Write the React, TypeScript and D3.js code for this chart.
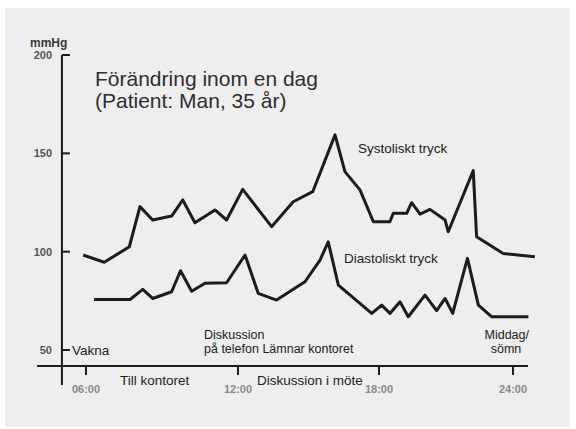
import React from 'react';
import * as d3 from 'd3';

// timmar på dygnet (decimal) och tryck i mmHg
const systHours = [5.89, 6.72, 7.71, 8.13, 8.63, 9.38, 9.82, 10.3, 11.09, 11.55, 12.2, 13.43, 14.35, 15.18, 16.13, 16.55, 17.19, 17.76, 18.49, 18.64, 19.24, 19.46, 19.84, 20.28, 20.96, 21.1, 22.22, 22.37, 23.56, 24.98];
const systValues = [98.3, 94.6, 102.5, 122.9, 116.1, 118.1, 126.3, 114.7, 121.2, 116.1, 131.7, 112.7, 125.4, 130.5, 159.4, 140.7, 131.4, 115.2, 115.2, 119.5, 119.5, 124.9, 119.1, 121.5, 116.1, 110.1, 141.2, 107.6, 99.1, 97.4];

const diaHours = [6.32, 7.74, 8.24, 8.63, 9.38, 9.73, 10.17, 10.7, 11.55, 12.3, 12.86, 13.64, 14.85, 15.49, 15.84, 16.27, 17.69, 18.12, 18.49, 18.94, 19.31, 20.06, 20.58, 20.96, 21.3, 21.96, 22.45, 23.05, 24.69];
const diaValues = [75.7, 75.7, 80.8, 76.2, 79.6, 90.3, 79.9, 83.9, 84.2, 98.3, 78.8, 75.4, 84.7, 95.7, 105.0, 83.0, 68.6, 72.8, 68.6, 74.5, 66.9, 77.9, 70.0, 76.2, 68.6, 96.6, 72.8, 66.9, 66.9];

const xTicks = [6, 12, 18, 24];
const xTickLabels = ['06:00', '12:00', '18:00', '24:00'];
const yTicks = [200, 150, 100, 50];

export default function App() {
  const width = 576;
  const height = 429;

  // handritad tidsaxel, inte helt jämn
  const x = d3.scaleLinear().domain([6, 12, 18, 24]).range([86, 238, 379, 513]);
  const y = d3.scaleLinear().domain([50, 200]).range([350, 55]);

  const line = d3
    .line<[number, number]>()
    .x((d) => x(d[0]))
    .y((d) => y(d[1]));

  const syst = systHours.map((h, i) => [h, systValues[i]] as [number, number]);
  const dia = diaHours.map((h, i) => [h, diaValues[i]] as [number, number]);

  const axisX = x(5.05);
  const axisY = 366;
  const font = '"Liberation Sans", Arial, sans-serif';
  const ink = '#1c1c1c';

  return (
    <svg
      width={width}
      height={height}
      style={{ position: 'absolute', left: 0, top: 0 }}
      fontFamily={font}
    >
      <rect x={0} y={0} width={width} height={height} fill='#ffffff' />
      <rect x={5} y={8} width={565} height={419} fill='#eeeeee' />

      {/* y-axel */}
      <line x1={axisX} x2={axisX} y1={y(200)} y2={385} stroke={ink} strokeWidth={2} />
      {yTicks.map((t) => (
        <g key={t}>
          <line x1={axisX} x2={axisX + 8} y1={y(t)} y2={y(t)} stroke={ink} strokeWidth={2} />
          <text x={52} y={y(t) + 4} textAnchor='end' fontSize={11} fontWeight='bold' fill='#555'>
            {t}
          </text>
        </g>
      ))}
      <text x={30} y={47} fontSize={12} fontWeight='bold' fill='#3a3a3a'>
        mmHg
      </text>

      {/* x-axel */}
      <line x1={x(4.07)} x2={x(24.67)} y1={axisY} y2={axisY} stroke={ink} strokeWidth={2} />
      {xTicks.map((t, i) => (
        <g key={t}>
          <line x1={x(t)} x2={x(t)} y1={axisY} y2={axisY + 9} stroke={ink} strokeWidth={2} />
          <text x={x(t)} y={393} textAnchor='middle' fontSize={11} fontWeight='bold' fill='#888'>
            {xTickLabels[i]}
          </text>
        </g>
      ))}

      {/* kurvor */}
      <path d={line(syst) || ''} fill='none' stroke={ink} strokeWidth={3} strokeLinejoin='round' />
      <path d={line(dia) || ''} fill='none' stroke={ink} strokeWidth={3} strokeLinejoin='round' />

      {/* rubrik */}
      <text x={95} y={86} fontSize={21} fill='#2f2f2f'>
        Förändring inom en dag
      </text>
      <text x={95} y={108} fontSize={21} fill='#2f2f2f'>
        (Patient: Man, 35 år)
      </text>

      {/* etiketter */}
      <g fontSize={13.5} fill='#222'>
        <text x={358} y={153}>Systoliskt tryck</text>
        <text x={344} y={263}>Diastoliskt tryck</text>
        <text x={72} y={355}>Vakna</text>
        <text x={120} y={385}>Till kontoret</text>
        <text x={257} y={385}>Diskussion i möte</text>
      </g>
      <g fontSize={12.5} fill='#222'>
        <text x={204} y={339}>Diskussion</text>
        <text x={204} y={353}>på telefon Lämnar kontoret</text>
        <text x={529} y={339} textAnchor='end'>Middag/</text>
        <text x={506} y={353} textAnchor='middle'>sömn</text>
      </g>
    </svg>
  );
}
